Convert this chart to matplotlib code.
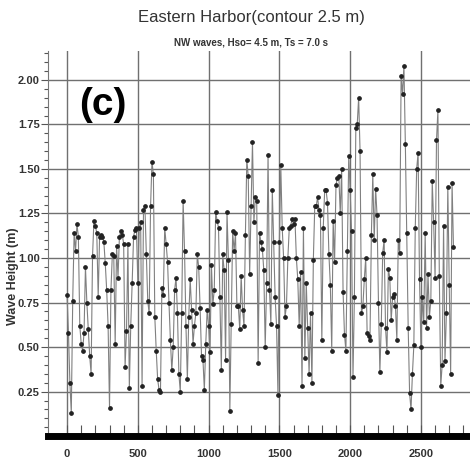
import numpy as np
import matplotlib.pyplot as plt

plt.rcParams['font.family'] = ['Liberation Sans', 'DejaVu Sans']

# distance along the contour (m), one point every 10 m
dist = np.arange(0, 2740, 10)

# wave height (m)
height = [
    0.79, 0.58, 0.30, 0.13, 0.76, 1.14, 1.04, 1.19, 1.12, 0.62,
    0.52, 0.48, 0.58, 0.95, 0.75, 0.60, 0.45, 0.35, 1.01, 1.21,
    1.18, 1.14, 0.78, 1.12, 1.13, 1.12, 1.09, 0.97, 0.82, 0.62,
    0.16, 0.82, 1.02, 1.01, 0.52, 1.07, 0.89, 1.12, 1.15, 1.13,
    1.08, 0.39, 0.59, 1.08, 0.27, 0.62, 0.86, 1.12, 1.16, 1.17,
    0.86, 1.17, 1.20, 0.28, 1.27, 1.29, 1.02, 0.76, 0.69, 1.29,
    1.54, 1.47, 0.67, 0.48, 0.32, 0.26, 0.25, 0.83, 0.79, 1.17,
    1.08, 0.98, 0.75, 0.54, 0.37, 0.50, 0.82, 0.89, 0.69, 0.35,
    0.25, 0.69, 1.32, 1.04, 0.62, 0.32, 0.67, 0.88, 0.71, 0.52,
    0.62, 0.69, 1.02, 0.95, 0.72, 0.45, 0.43, 0.26, 0.52, 0.71,
    0.62, 0.47, 0.96, 0.74, 0.82, 1.26, 1.21, 1.17, 0.78, 0.37,
    1.02, 0.93, 0.43, 1.26, 0.99, 0.14, 0.63, 1.15, 1.04, 1.14,
    0.73, 0.73, 0.60, 0.90, 0.71, 0.62, 1.13, 1.55, 1.46, 0.91,
    1.29, 1.65, 1.20, 1.34, 1.32, 0.41, 1.14, 1.09, 1.05, 0.93,
    0.50, 0.86, 1.58, 0.82, 0.63, 1.38, 1.09, 0.78, 0.62, 0.23,
    1.09, 1.52, 1.17, 1.00, 0.67, 0.73, 1.00, 1.17, 1.18, 1.22,
    1.19, 1.22, 1.00, 0.88, 0.62, 0.92, 0.28, 1.17, 0.44, 0.86,
    0.61, 0.35, 0.69, 0.30, 0.99, 1.29, 1.29, 1.34, 1.27, 1.24,
    0.54, 1.17, 1.38, 1.38, 1.31, 1.02, 0.85, 0.48, 1.21, 0.98,
    1.41, 1.45, 1.46, 1.25, 1.50, 0.81, 0.57, 0.48, 1.04, 1.57,
    1.38, 1.15, 0.33, 0.78, 1.73, 1.75, 1.90, 1.60, 0.69, 0.73,
    0.88, 1.00, 0.58, 0.56, 0.54, 1.13, 1.47, 1.10, 1.39, 1.24,
    0.75, 0.36, 0.63, 1.03, 1.10, 0.61, 0.47, 0.94, 0.89, 0.65,
    0.78, 0.80, 0.73, 0.54, 1.10, 1.03, 2.02, 1.92, 2.08, 1.64,
    1.14, 0.61, 0.24, 0.15, 0.35, 0.51, 1.17, 1.50, 1.59, 0.88,
    0.50, 0.78, 0.64, 1.14, 0.61, 0.91, 0.67, 0.76, 1.43, 1.20,
    0.89, 1.66, 1.83, 0.90, 0.28, 0.40, 1.18, 0.42, 0.69, 1.40,
    0.85, 0.35, 1.42, 1.06,
]

fig = plt.figure(figsize=(4.7, 4.68), dpi=100)
ax = fig.add_axes([0.102, 0.068, 0.902, 0.823])

ax.plot(dist, height, '-', color='#808080', lw=0.8, zorder=3)
ax.plot(dist, height, 'o', color='#222222', ms=2.4, zorder=4)

ax.set_xlim(-135, 2860)
ax.set_ylim(0.0, 2.162)

ax.set_xticks(np.arange(0, 3000, 500))
ax.set_xticks(np.arange(0, 2900, 100), minor=True)
ax.set_yticks(np.arange(0.25, 2.01, 0.25))
ax.set_yticks(np.arange(0.05, 2.16, 0.05), minor=True)
ax.set_yticklabels(['%.2f' % v for v in np.arange(0.25, 2.01, 0.25)])

ax.grid(True, which='major', color='#707070', lw=1.0)
ax.set_axisbelow(True)

ax.tick_params(axis='y', which='major', direction='out', length=5, width=0.8,
               color='#555555', labelsize=8, pad=1)
ax.tick_params(axis='y', which='minor', direction='out', length=3, width=0.8,
               color='#555555')
ax.tick_params(axis='x', which='major', direction='in', length=8, width=0.8,
               color='#555555', labelsize=8, pad=9)
ax.tick_params(axis='x', which='minor', direction='in', length=8, width=0.8,
               color='#555555')
for lab in ax.get_xticklabels() + ax.get_yticklabels():
    lab.set_fontweight('bold')
    lab.set_color('#333333')

ax.spines['top'].set_visible(False)
ax.spines['right'].set_visible(False)
ax.spines['left'].set_color('#777777')
ax.spines['left'].set_linewidth(0.8)
ax.spines['bottom'].set_color('black')
ax.spines['bottom'].set_linewidth(5)

fig.text(0.027, 0.41, 'Wave Height (m)', fontsize=9, fontweight='bold',
         color='#333333', rotation=90, ha='center', va='center')

ax.text(256, 1.86, '(c)', fontsize=28, fontweight='bold',
        ha='center', va='center')

fig.text(0.535, 0.962, 'Eastern Harbor(contour 2.5 m)', fontsize=12,
         ha='center', va='center', color='#333333')
fig.text(0.535, 0.910, 'NW waves, Hso= 4.5 m, Ts = 7.0 s', fontsize=7,
         fontweight='bold', ha='center', va='center', color='#333333')

fig.savefig('out.png', dpi=100)
